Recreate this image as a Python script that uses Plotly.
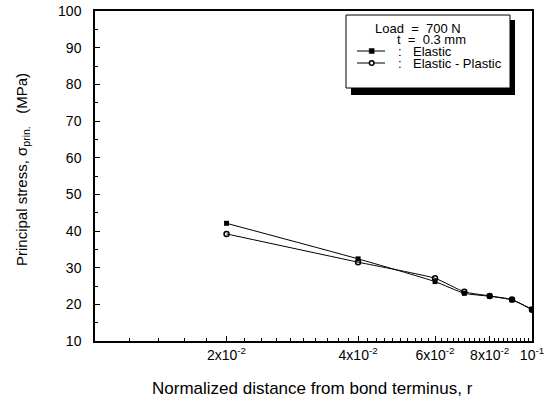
import plotly.graph_objects as go
import numpy as np

# ---- data ----
r_vals = [0.02, 0.04, 0.06, 0.07, 0.08, 0.09, 0.1]
elastic = [42.1, 32.4, 26.2, 23.0, 22.2, 21.2, 18.7]
elastic_plastic = [39.2, 31.5, 27.1, 23.4, 22.3, 21.3, 18.5]
x_tickvals = [0.02, 0.04, 0.06, 0.08, 0.1]
x_ticktext = ["2x10<sup>-2</sup>", "4x10<sup>-2</sup>", "6x10<sup>-2</sup>",
              "8x10<sup>-2</sup>", "10<sup>-1</sup>"]
y_tickvals = [10, 20, 30, 40, 50, 60, 70, 80, 90, 100]

FONT = "Liberation Sans, Arial, sans-serif"
W, H = 556, 401
L, R, T, B = 95, 24, 11, 60
PW, PH = W - L - R, H - T - B


def px(x):
    return (x - L) / PW


def py(y):
    return (H - B - y) / PH


minor_x = [round(v, 3) for v in np.arange(0.012, 0.1, 0.002)
           if not any(abs(v - m) < 1e-9 for m in x_tickvals)]

fig = go.Figure()
fig.add_trace(go.Scatter(
    x=r_vals, y=elastic, mode="lines+markers", name="Elastic",
    line=dict(color="black", width=1, shape="spline", smoothing=0.5),
    marker=dict(symbol="square", size=5, color="black"),
    showlegend=False))
fig.add_trace(go.Scatter(
    x=r_vals, y=elastic_plastic, mode="lines+markers", name="Elastic - Plastic",
    line=dict(color="black", width=1, shape="spline", smoothing=0.5),
    marker=dict(symbol="circle-open", size=5, color="black", line=dict(width=1.5)),
    showlegend=False))

axis_common = dict(showline=True, linecolor="black", linewidth=1.5, mirror=True,
                   ticks="inside", tickcolor="black", tickwidth=1, ticklen=5,
                   showgrid=False, zeroline=False, automargin=False,
                   tickfont=dict(family=FONT, size=14, color="black"))

fig.update_xaxes(type="log", range=[-2, -1], tickmode="array",
                 tickvals=x_tickvals, ticktext=x_ticktext,
                 minor=dict(tickmode="array", tickvals=minor_x, ticks="inside",
                            ticklen=3, tickcolor="black", tickwidth=1),
                 **axis_common)
fig.update_yaxes(range=[10, 100], tickmode="array", tickvals=y_tickvals,
                 ticklabelstandoff=9,
                 minor=dict(dtick=5, tick0=0, ticks="inside", ticklen=3,
                            tickcolor="black", tickwidth=1),
                 **axis_common)

shapes = []
# legend shadow and box
shapes.append(dict(type="rect", xref="paper", yref="paper",
                   x0=px(351), x1=px(515), y0=py(95), y1=py(20),
                   fillcolor="black", line=dict(width=0)))
shapes.append(dict(type="rect", xref="paper", yref="paper",
                   x0=px(346), x1=px(510), y0=py(88), y1=py(15),
                   fillcolor="white", line=dict(color="black", width=1)))
# legend samples
for yy in (51, 63):
    shapes.append(dict(type="line", xref="paper", yref="paper",
                       x0=px(357), x1=px(385), y0=py(yy), y1=py(yy),
                       line=dict(color="black", width=1)))
shapes.append(dict(type="rect", xref="paper", yref="paper",
                   x0=px(369.2), x1=px(374.2), y0=py(53.5), y1=py(48.5),
                   fillcolor="black", line=dict(color="black", width=0.5)))
shapes.append(dict(type="circle", xref="paper", yref="paper",
                   x0=px(369.4), x1=px(374.0), y0=py(65.3), y1=py(60.7),
                   fillcolor="white", line=dict(color="black", width=1.5)))

annos = []
lf = dict(family=FONT, size=13, color="black")
annos.append(dict(text="Load&nbsp;&nbsp;=&nbsp;&nbsp;700 N", x=px(418), y=py(28.3),
                  xanchor="center", yanchor="middle"))
annos.append(dict(text="t&nbsp;&nbsp;=&nbsp;&nbsp;0.3 mm", x=px(431), y=py(39.5),
                  xanchor="center", yanchor="middle"))
annos.append(dict(text=":", x=px(400), y=py(51), xanchor="center", yanchor="middle"))
annos.append(dict(text=":", x=px(400), y=py(63.3), xanchor="center", yanchor="middle"))
annos.append(dict(text="Elastic", x=px(411.5), y=py(51), xanchor="left", yanchor="middle"))
annos.append(dict(text="Elastic - Plastic", x=px(411.5), y=py(63.3),
                  xanchor="left", yanchor="middle"))
for a in annos:
    a.update(xref="paper", yref="paper", showarrow=False, font=lf,
             borderpad=0)

annos.append(dict(text="Normalized distance from bond terminus, r",
                  x=px(312), y=py(388), xref="paper", yref="paper",
                  xanchor="center", yanchor="middle", showarrow=False,
                  font=dict(family=FONT, size=17, color="black")))
annos.append(dict(text="Principal stress, σ<sub>prin.</sub>&nbsp;&nbsp;&nbsp;(MPa)",
                  x=px(22), y=py(170), xref="paper", yref="paper",
                  xanchor="center", yanchor="middle", textangle=-90,
                  showarrow=False,
                  font=dict(family=FONT, size=15, color="black")))

fig.update_layout(width=W, height=H, margin=dict(l=L, r=R, t=T, b=B, autoexpand=False),
                  paper_bgcolor="white", plot_bgcolor="white",
                  shapes=shapes, annotations=annos, showlegend=False)

fig.write_html("out.html", config={"displayModeBar": False},
               post_script="document.body.style.margin='0';document.body.style.overflow='hidden';")
